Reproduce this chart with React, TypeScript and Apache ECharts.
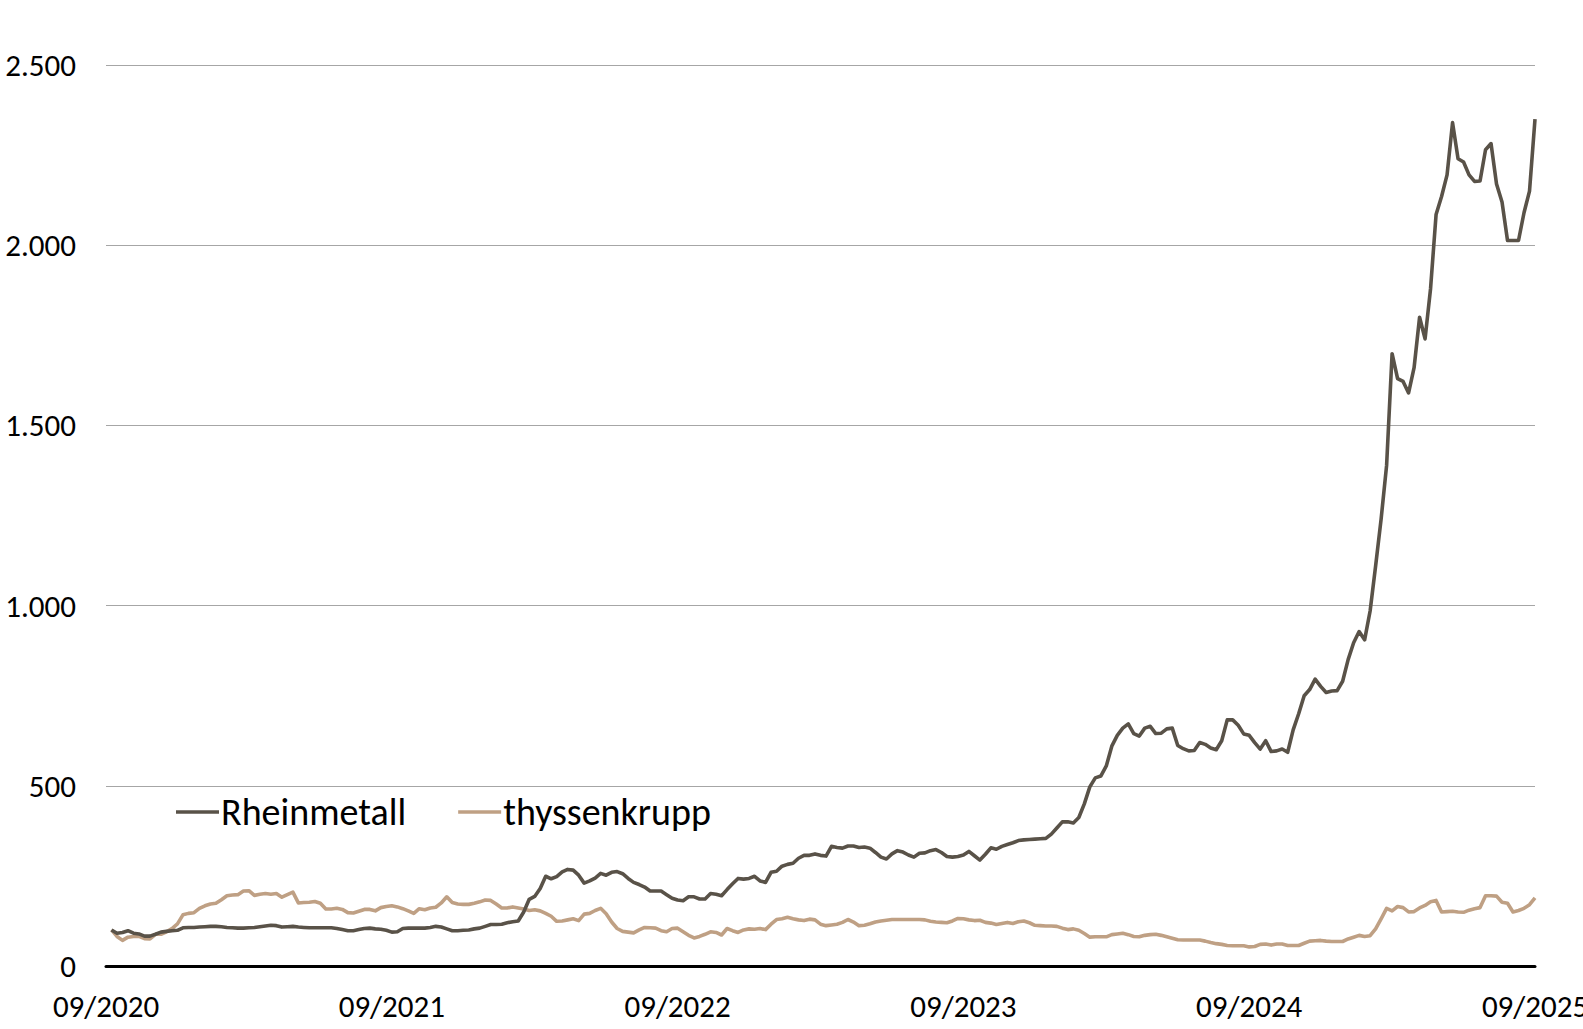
import React, { useEffect, useRef } from "react";
import * as echarts from "echarts";

const seriesNames = ["Rheinmetall", "thyssenkrupp"];

// Weekly readings, Sep 2020 – Sep 2025 (index 100 = start)
const rheinmetall = [
  100, 91, 93, 98, 91, 89, 83, 83, 88, 94,
  96, 98, 99, 106, 107, 107, 108, 109, 110, 110,
  109, 107, 106, 105, 105, 106, 107, 109, 111, 113,
  112, 108, 109, 110, 108, 107, 106, 106, 106, 106,
  106, 104, 101, 98, 98, 101, 104, 105, 103, 102,
  99, 94, 95, 104, 105, 105, 105, 105, 107, 110,
  108, 103, 98, 98, 99, 100, 103, 105, 110, 115,
  115, 116, 120, 123, 125, 150, 185, 193, 215, 249,
  242, 248, 261, 268, 266, 252, 230, 236, 244, 257,
  252, 260, 262, 256, 243, 232, 226, 219, 208, 208,
  208, 198, 188, 183, 181, 192, 192, 186, 186, 201,
  199, 195, 212, 228, 243, 241, 243, 249, 236, 232,
  260, 263, 277, 282, 285, 299, 307, 307, 311, 307,
  305, 332, 329, 327, 333, 333, 329, 330, 327, 315,
  302, 297, 311, 320, 316, 308, 302, 313, 314, 320,
  323, 315, 304, 302, 304, 308, 318, 306, 294, 310,
  328, 324, 332, 337, 342, 348, 350, 351, 352, 353,
  354, 366, 383, 400, 400, 397, 412, 450, 497, 522,
  527, 555, 610, 640, 660, 672, 645, 638, 660, 665,
  645, 646, 658, 660, 612, 603, 597, 598, 620, 615,
  605, 600, 625, 683, 683, 668, 644, 640, 620, 602,
  625, 595, 597, 602, 593, 655, 700, 750, 767, 796,
  776, 759, 763, 764, 790, 850, 897, 928, 905, 985,
  1110, 1240, 1389, 1699, 1630, 1622, 1590, 1660, 1800, 1740,
  1880, 2085, 2135, 2195, 2340, 2240, 2231, 2195, 2177, 2178,
  2265, 2282, 2170, 2120, 2013, 2013, 2013, 2090, 2150, 2350,
];

const thyssenkrupp = [
  100, 82, 71, 80, 82, 82, 76, 75, 88, 88,
  95, 104, 117, 142, 146, 148, 160, 167, 172, 174,
  184, 195, 197, 198, 208, 209, 196, 199, 201, 199,
  201, 191, 198, 205, 175, 176, 177, 179, 174, 158,
  158, 160, 157, 148, 147, 152, 157, 157, 153, 162,
  165, 167, 164, 159, 153, 146, 159, 156, 161, 163,
  175, 192, 176, 172, 171, 171, 174, 178, 183, 182,
  172, 161, 161, 164, 161, 158, 154, 156, 153, 146,
  138, 124, 125, 128, 131, 126, 144, 146, 154, 160,
  145, 122, 104, 96, 94, 92, 100, 107, 106, 105,
  98, 95, 104, 105, 95, 85, 78, 82, 88, 95,
  93, 86, 104, 98, 93, 100, 103, 102, 104, 101,
  116, 129, 131, 135, 131, 128, 126, 130, 128, 116,
  112, 114, 116, 121, 129, 122, 112, 113, 117, 122,
  125, 127, 129, 129, 129, 129, 129, 129, 128, 124,
  122, 121, 120, 125, 132, 131, 128, 126, 127, 121,
  119, 115, 118, 121, 118, 123, 125, 120, 113, 112,
  111, 111, 110, 105, 101, 103, 99, 90, 80, 81,
  81, 81, 87, 89, 91, 87, 82, 81, 85, 87,
  88, 85, 81, 77, 73, 72, 72, 72, 72, 69,
  65, 62, 60, 57, 56, 56, 56, 53, 54, 60,
  61, 58, 61, 61, 57, 57, 57, 63, 69, 70,
  71, 69, 68, 68, 68, 75, 80, 85, 82, 84,
  103, 131, 160, 153, 165, 162, 150, 151, 161, 168,
  178, 182, 150, 151, 152, 150, 149, 155, 159, 162,
  195, 195, 194, 177, 174, 150, 154, 160, 170, 189,
];

const xTickLabels = ["09/2020", "09/2021", "09/2022", "09/2023", "09/2024", "09/2025"];
const yTickLabels = ["0", "500", "1.000", "1.500", "2.000", "2.500"];

const colors = ["#595248", "#bfa084"];
const FONT = "Carlito, Lato, 'Open Sans', sans-serif";

// week number (1..260) on the x axis for each reading
const toPoints = (vals: number[]) => vals.map((v, i) => [i + 1, v]);

export default function App() {
  const ref = useRef<HTMLDivElement>(null);
  useEffect(() => {
    if (!ref.current) return;
    const chart = echarts.init(ref.current, null, { renderer: "svg" });
    chart.setOption({
      animation: false,
      backgroundColor: "#ffffff",
      color: colors,
      grid: {
        left: 106,
        right: 48,
        top: 65,
        bottom: 63,
        containLabel: false,
        outerBoundsMode: "none",
      },
      legend: {
        left: 171,
        top: 788,
        itemWidth: 43,
        itemHeight: 14,
        itemGap: 52,
        data: seriesNames.map((n, i) => ({
          name: n,
          icon: "path://M0,5.3 L43,5.3 L43,8.7 L0,8.7 Z",
          itemStyle: { color: colors[i] },
        })),
        textStyle: { fontFamily: FONT, fontSize: 38, color: "#000", padding: [0, 0, 0, -3] },
      },
      xAxis: {
        type: "value",
        min: 0,
        max: 260,
        interval: 52,
        axisLine: { show: true, onZero: false, lineStyle: { color: "#000", width: 3 } },
        axisTick: { show: false },
        splitLine: { show: false },
        axisLabel: {
          margin: 24,
          fontFamily: FONT,
          fontSize: 31,
          color: "#000",
          showMaxLabel: true,
          showMinLabel: true,
          hideOverlap: false,
          formatter: (v: number) => xTickLabels[Math.round(v / 52)] ?? "",
        },
      },
      yAxis: {
        type: "value",
        min: 0,
        max: 2500,
        interval: 500,
        axisLine: { show: false },
        axisTick: { show: false },
        splitLine: { show: true, lineStyle: { color: "#a6a6a6", width: 1 } },
        axisLabel: {
          margin: 30,
          fontFamily: FONT,
          fontSize: 31,
          color: "#000",
          formatter: (v: number) => yTickLabels[Math.round(v / 500)] ?? "",
        },
      },
      series: [
        {
          name: seriesNames[1],
          type: "line",
          data: toPoints(thyssenkrupp),
          showSymbol: false,
          symbol: "none",
          lineStyle: { width: 3.6, color: colors[1], join: "round" },
          itemStyle: { color: colors[1] },
          z: 2,
        },
        {
          name: seriesNames[0],
          type: "line",
          data: toPoints(rheinmetall),
          showSymbol: false,
          symbol: "none",
          lineStyle: { width: 3.6, color: colors[0], join: "round" },
          itemStyle: { color: colors[0] },
          z: 3,
        },
      ],
    });
    return () => chart.dispose();
  }, []);
  return (
    <div
      ref={ref}
      style={{ position: "absolute", left: 0, top: 0, width: 1583, height: 1029 }}
    />
  );
}
